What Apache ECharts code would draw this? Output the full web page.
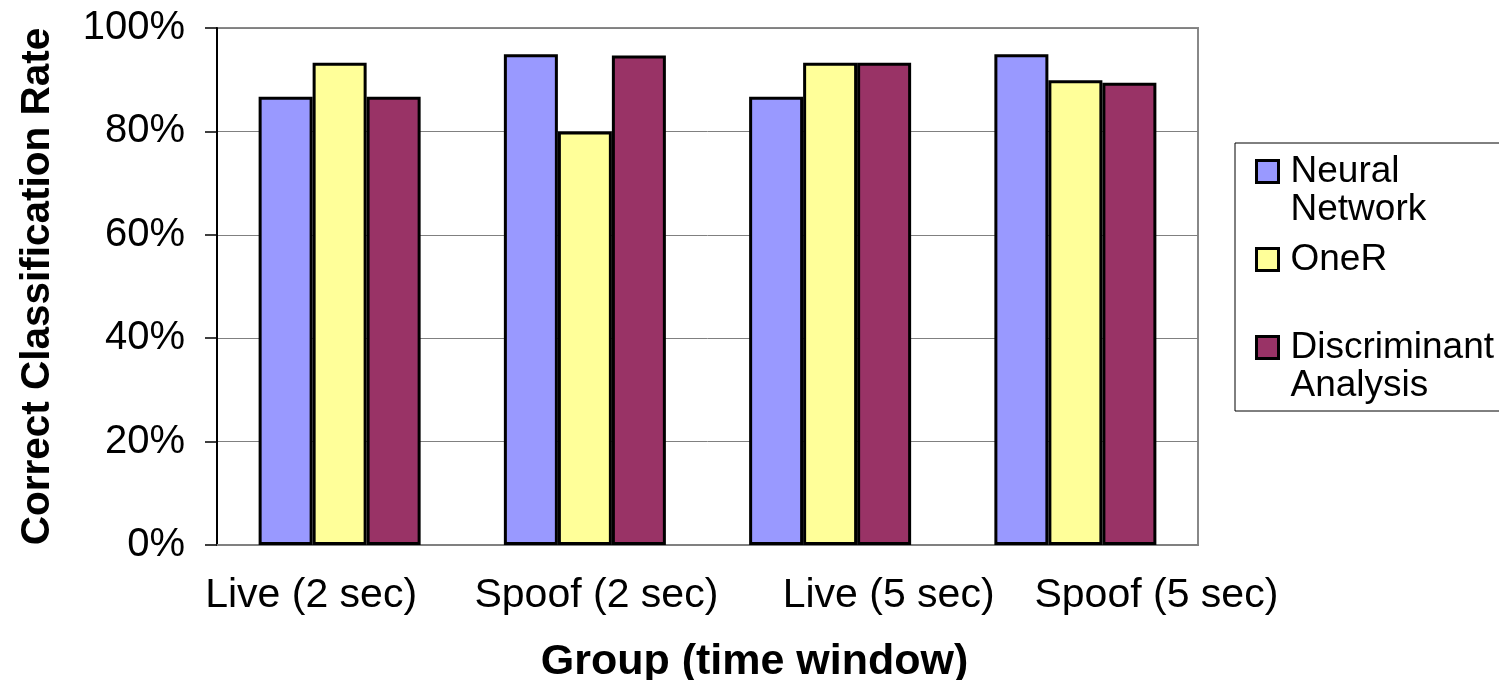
<!DOCTYPE html>
<html style="height:100%;width:100%;">

<head>
  <meta charset="utf-8">
  <title>Correct Classification Rate</title>
  <script src="https://cdn.jsdelivr.net/npm/echarts@6/dist/echarts.min.js"></script>
</head>

<body style="margin:0px;height:100%;width:100%;background:#fff;">
  <div id="main" style="width:1499px;height:680px"></div>
  <script type="text/javascript" charset="utf-8">
    // data
    var groups = ['Live (2 sec)', 'Spoof (2 sec)', 'Live (5 sec)', 'Spoof (5 sec)'];
    var seriesNames = ['Neural Network', 'OneR', 'Discriminant Analysis'];
    var neuralNetwork = [86.7, 94.9, 86.7, 94.9];
    var oneR = [93.3, 80.0, 93.3, 89.9];
    var discriminant = [86.7, 94.7, 93.3, 89.4];
    var yTicks = [0, 20, 40, 60, 80, 100];

    // label nudges so the category text sits like the original
    var labelPads = [[0, 57, 0, 0], [0, 0, 0, 23], [0, 0, 0, 117], [0, 0, 0, 162]];
    // legend lines; an empty first line keeps the square level with the first word
    var legendText = {
      'Neural Network': ['Neural', 'Network'],
      'OneR': ['OneR', '\u00a0'],
      'Discriminant Analysis': ['Discriminant', 'Analysis']
    };

    var myChart = echarts.init(document.getElementById("main"));
    var font = 'Liberation Sans, Arial, sans-serif';

    function bar(name, data, color) {
      return {
        name: name,
        type: 'bar',
        data: data,
        barWidth: 54,
        barGap: '0%',
        itemStyle: {
          color: color,
          borderColor: '#000',
          borderWidth: 3
        }
      };
    }

    var option = {
      backgroundColor: '#fff',
      animation: false,
      textStyle: { fontFamily: font },
      grid: {
        left: 217,
        right: 301,
        top: 28,
        bottom: 135,
        outerBoundsMode: 'none',
        show: true,
        borderColor: '#888',
        borderWidth: 2
      },
      legend: {
        orient: 'vertical',
        left: 1235,
        top: 143,
        padding: [-28, 10, 7, 20],
        borderColor: '#000',
        borderWidth: 1,
        itemWidth: 22,
        itemHeight: 22,
        itemGap: -25,
        icon: 'rect',
        data: seriesNames,
        formatter: function (name) {
          var l = legendText[name];
          return '{pad|\u00a0}\n{t|' + l[0] + '}\n{t|' + l[1] + '}';
        },
        itemStyle: { borderColor: '#000', borderWidth: 3 },
        textStyle: {
          fontFamily: font,
          fontSize: 37,
          color: '#000',
          rich: {
            pad: { fontSize: 37, lineHeight: 38, padding: [0, 0, 0, 7] },
            t: { fontFamily: font, fontSize: 37, lineHeight: 38, color: '#000', padding: [0, 0, 0, 7] }
          }
        }
      },
      xAxis: {
        type: 'category',
        data: groups.map(function (g, i) {
          return { value: g, textStyle: { padding: labelPads[i] } };
        }),
        name: 'Group (time window)',
        nameLocation: 'middle',
        nameGap: 96,
        nameTextStyle: {
          fontFamily: font,
          fontSize: 43,
          fontWeight: 'bold',
          color: '#000',
          padding: [0, 0, 0, 94]
        },
        axisLine: { lineStyle: { color: '#808080', width: 2 } },
        axisTick: { show: false },
        axisLabel: {
          interval: 0,
          margin: 30,
          fontFamily: font,
          fontSize: 41,
          color: '#000'
        }
      },
      yAxis: {
        type: 'value',
        min: yTicks[0],
        max: yTicks[yTicks.length - 1],
        interval: yTicks[1] - yTicks[0],
        name: 'Correct Classification Rate',
        nameLocation: 'middle',
        nameGap: 159,
        nameTextStyle: {
          fontFamily: font,
          fontSize: 40.5,
          fontWeight: 'bold',
          color: '#000'
        },
        axisLine: { show: true, lineStyle: { color: '#000', width: 2 } },
        axisTick: { show: true, length: 12, lineStyle: { color: '#000', width: 1.5 } },
        axisLabel: {
          formatter: '{value}%',
          margin: 32,
          fontFamily: font,
          fontSize: 40,
          color: '#000'
        },
        splitLine: { lineStyle: { color: '#808080', width: 1 } }
      },
      series: [
        bar(seriesNames[0], neuralNetwork, '#9999FF'),
        bar(seriesNames[1], oneR, '#FFFF99'),
        bar(seriesNames[2], discriminant, '#993366')
      ]
    };

    myChart.setOption(option);
  </script>
</body>

</html>
